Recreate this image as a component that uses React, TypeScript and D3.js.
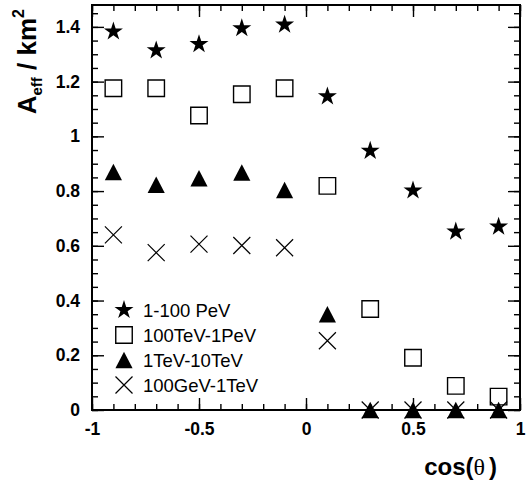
import React, { useEffect, useRef } from "react";
import * as d3 from "d3";

// cos(theta) bin centres
const cosTheta = [-0.9, -0.7, -0.5, -0.3, -0.1, 0.1, 0.3, 0.5, 0.7, 0.9];
// effective area per energy band (km^2)
const aeffPeV = [1.383, 1.314, 1.337, 1.395, 1.408, 1.146, 0.947, 0.802, 0.652, 0.67];
const aeffTeVPeV = [1.176, 1.176, 1.076, 1.154, 1.176, 0.819, 0.369, 0.191, 0.088, 0.049];
const aeffTeV = [0.87, 0.823, 0.847, 0.868, 0.804, 0.35, 0, 0, 0, 0];
const aeffGeV = [0.64, 0.575, 0.606, 0.601, 0.593, 0.253, 0, 0, 0, 0];

const legendLabels = ["1-100 PeV", "100TeV-1PeV", "1TeV-10TeV", "100GeV-1TeV"];

const xMajor = [-1, -0.5, 0, 0.5, 1];
const xMinor = d3.range(-10, 11).map((i) => i / 10);
const yMajor = [0, 0.2, 0.4, 0.6, 0.8, 1, 1.2, 1.4];
const yMinor = d3.range(0, 30).map((i) => i * 0.05);

const W = 532;
const H = 480;
const left = 92, right = 520, top = 5, bottom = 410;

// custom marker shapes, size = marker width in px
const squareType = {
  draw(ctx: any, s: number) {
    const h = s / 2;
    ctx.rect(-h, -h, s, s);
  },
};
const triangleType = {
  draw(ctx: any, s: number) {
    const h = s / 2;
    ctx.moveTo(0, -h);
    ctx.lineTo(h * 1.04, h);
    ctx.lineTo(-h * 1.04, h);
    ctx.closePath();
  },
};
const crossType = {
  draw(ctx: any, s: number) {
    const h = s / 2;
    ctx.moveTo(-h, -h);
    ctx.lineTo(h, h);
    ctx.moveTo(h, -h);
    ctx.lineTo(-h, h);
  },
};

const fmt = (d: any) => String(+(+d).toFixed(2));

export default function App() {
  const ref = useRef<SVGSVGElement>(null);

  useEffect(() => {
    const svg = d3.select(ref.current);
    svg.selectAll("*").remove();

    const x = d3.scaleLinear().domain([-1, 1]).range([left, right]);
    const y = d3.scaleLinear().domain([0, 1.48]).range([bottom, top]);

    const tickFont = (g: any) => {
      g.select(".domain").remove();
      g.selectAll("line").attr("stroke", "#000").attr("stroke-width", 1.4);
      g.selectAll("text")
        .attr("fill", "#000")
        .attr("font-family", "'Liberation Sans', Arial, Helvetica, sans-serif")
        .attr("font-weight", "bold")
        .attr("font-size", 17.5);
    };

    // bottom axis
    svg.append("g").attr("transform", `translate(0,${bottom})`)
      .call(d3.axisBottom(x).tickValues(xMinor).tickSize(-6).tickFormat(() => ""))
      .call(tickFont);
    svg.append("g").attr("transform", `translate(0,${bottom})`)
      .call(d3.axisBottom(x).tickValues(xMajor).tickSize(-12).tickPadding(13).tickFormat(fmt))
      .call(tickFont);
    // top axis (mirror)
    svg.append("g").attr("transform", `translate(0,${top})`)
      .call(d3.axisTop(x).tickValues(xMinor).tickSize(-6).tickFormat(() => ""))
      .call(tickFont);
    svg.append("g").attr("transform", `translate(0,${top})`)
      .call(d3.axisTop(x).tickValues(xMajor).tickSize(-12).tickFormat(() => ""))
      .call(tickFont);
    // left axis
    svg.append("g").attr("transform", `translate(${left},0)`)
      .call(d3.axisLeft(y).tickValues(yMinor).tickSize(-6).tickFormat(() => ""))
      .call(tickFont);
    svg.append("g").attr("transform", `translate(${left},0)`)
      .call(d3.axisLeft(y).tickValues(yMajor).tickSize(-12).tickPadding(12).tickFormat(fmt))
      .call(tickFont);
    // right axis (mirror)
    svg.append("g").attr("transform", `translate(${right},0)`)
      .call(d3.axisRight(y).tickValues(yMinor).tickSize(-6).tickFormat(() => ""))
      .call(tickFont);
    svg.append("g").attr("transform", `translate(${right},0)`)
      .call(d3.axisRight(y).tickValues(yMajor).tickSize(-12).tickFormat(() => ""))
      .call(tickFont);

    // frame
    svg.append("rect")
      .attr("x", left).attr("y", top)
      .attr("width", right - left).attr("height", bottom - top)
      .attr("fill", "none").attr("stroke", "#000").attr("stroke-width", 2);

    const star = d3.symbol().type(d3.symbolStar).size(112);
    const square = d3.symbol().type(squareType as any).size(16.5);
    const tri = d3.symbol().type(triangleType as any).size(16.5);
    const cross = d3.symbol().type(crossType as any).size(17);

    const series = [
      { vals: aeffTeVPeV, path: square(), fill: "none", stroke: "#000", sw: 1.4 },
      { vals: aeffPeV, path: star(), fill: "#000", stroke: "none", sw: 0 },
      { vals: aeffGeV, path: cross(), fill: "none", stroke: "#000", sw: 1.2 },
      { vals: aeffTeV, path: tri(), fill: "#000", stroke: "none", sw: 0 },
    ];

    series.forEach((s) => {
      svg.append("g").selectAll("path")
        .data(cosTheta.map((c, i) => [c, s.vals[i]]))
        .enter().append("path")
        .attr("d", s.path as string)
        .attr("transform", (d) => `translate(${x(d[0])},${y(d[1])})`)
        .attr("fill", s.fill)
        .attr("stroke", s.stroke)
        .attr("stroke-width", s.sw);
    });

    // legend
    const legendPaths = [
      { path: star(), fill: "#000", stroke: "none", sw: 0 },
      { path: square(), fill: "none", stroke: "#000", sw: 1.4 },
      { path: tri(), fill: "#000", stroke: "none", sw: 0 },
      { path: cross(), fill: "none", stroke: "#000", sw: 1.2 },
    ];
    const legendY = d3.scalePoint().domain(legendLabels).range([310, 385]);
    const lg = svg.append("g");
    legendLabels.forEach((lab, i) => {
      const p = legendPaths[i];
      lg.append("path")
        .attr("d", p.path as string)
        .attr("transform", `translate(124,${legendY(lab)})`)
        .attr("fill", p.fill).attr("stroke", p.stroke).attr("stroke-width", p.sw);
      lg.append("text")
        .attr("x", 143).attr("y", legendY(lab)!)
        .attr("dy", "0.36em")
        .attr("font-family", "'Liberation Sans', Arial, Helvetica, sans-serif")
        .attr("font-size", 18.5)
        .text(lab);
    });

    // y title
    const yt = svg.append("text")
      .attr("transform", "translate(36,9) rotate(-90)")
      .attr("text-anchor", "end")
      .attr("font-family", "'Liberation Sans', Arial, Helvetica, sans-serif")
      .attr("font-weight", "bold")
      .attr("font-size", 26);
    yt.append("tspan").text("A");
    yt.append("tspan").attr("font-size", 15).attr("dy", 6).text("eff");
    yt.append("tspan").attr("dy", -6).text(" / km");
    yt.append("tspan").attr("font-size", 16).attr("dy", -12).text("2");

    // x title
    const xt = svg.append("text")
      .attr("x", 497).attr("y", 475)
      .attr("text-anchor", "end")
      .attr("font-family", "'Liberation Sans', Arial, Helvetica, sans-serif")
      .attr("font-weight", "bold")
      .attr("font-size", 24);
    xt.append("tspan").text("cos(");
    xt.append("tspan").attr("font-family", "'Liberation Serif', 'DejaVu Serif', serif")
      .attr("font-weight", "normal").text("θ");
    xt.append("tspan").attr("dx", 4).text(")");
  }, []);

  return (
    <svg
      ref={ref}
      width={W}
      height={H}
      style={{ position: "absolute", left: 0, top: 0, background: "#fff" }}
    />
  );
}
